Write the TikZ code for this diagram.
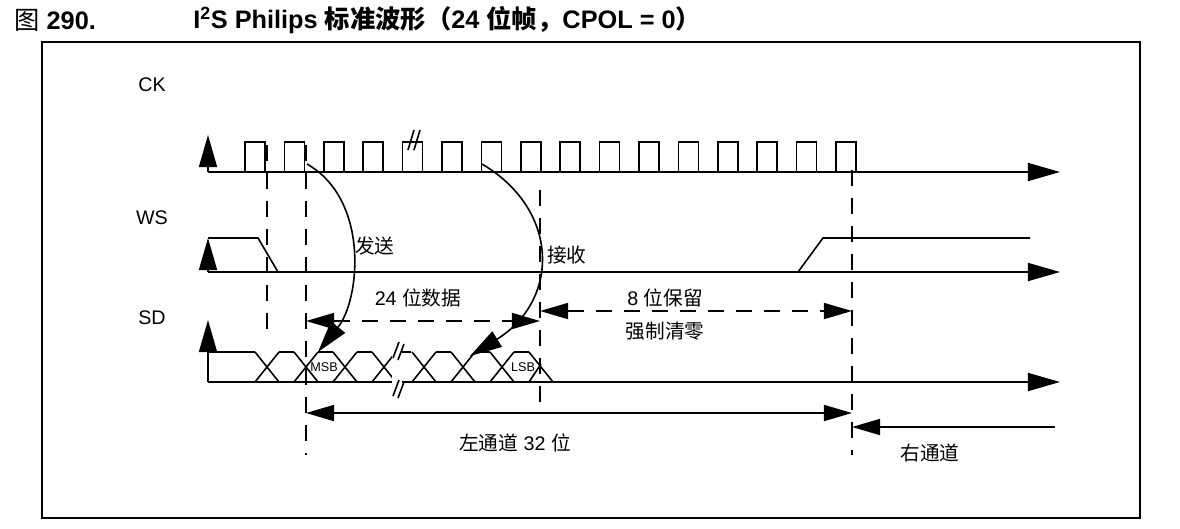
\documentclass[tikz,border=0pt]{standalone}
\usepackage{fontspec}
\setmainfont{Liberation Sans}
\newfontfamily\cjk{Noto Sans CJK SC}
\usetikzlibrary{arrows.meta}
\begin{document}
\begin{tikzpicture}
[x=0.025cm, y=-0.025cm,
 lineDecorate/.style={line width=0.4mm},
 axisDecorate/.style={-{Triangle[length=8mm,width=4.5mm]},line width=0.4mm},
 dimDecorate/.style={{Triangle[length=7mm,width=4mm]}-{Triangle[length=7mm,width=4mm]},line width=0.4mm},
 markDecorate/.style={dashed,dash pattern=on 4mm off 3mm,line width=0.35mm},
 labelDecorate/.style={font=\fontsize{14}{16}\selectfont,inner sep=0pt}]

\useasboundingbox (0,0) rectangle (1180,528);
\draw[line width=0.3mm] (42,42) rectangle (1140,518);

% title
\node[anchor=west,font=\fontsize{18}{20}\selectfont,inner sep=0pt] (title0) at (14,20) {{\cjk 图} \textbf{290.}};
\node[anchor=west,font=\fontsize{18}{20}\selectfont\bfseries,inner sep=0pt] (title1) at (193,20) {I\textsuperscript{2}S Philips {\cjk 标准波形（}24 {\cjk 位帧，}CPOL = 0{\cjk ）}};

% signal names
\foreach \nodename/\y in {CK/85,WS/218,SD/318}
  \node[labelDecorate] (L\nodename) at (152,\y) {\nodename};

% axes
\foreach \nodename/\y/\top in {CK/172/135,WS/272/238,SD/382/320}
 {
  \coordinate (O\nodename) at (208,\y);
  \coordinate (Y\nodename) at (208,\top);
  \coordinate (X\nodename) at (1060,\y);
  \draw[axisDecorate] (O\nodename) -- (Y\nodename);
  \draw[axisDecorate] (O\nodename) -- (X\nodename);
 }

% clock
\foreach \i in {0,...,15}
  \draw[lineDecorate] (245+39.4*\i,172) -- ++(0,-30) -- ++(20,0) -- ++(0,30);
\draw[lineDecorate] (408,150) -- (414,130) (414,150) -- (420,130);

% word select
\draw[lineDecorate] (208,238) -- (258,238) -- (278,272);
\draw[lineDecorate] (798,272) -- (823,238) -- (1030,238);

% serial data
\draw[lineDecorate] (208,352) -- (255,352);
\foreach \c in {267,306,345,384,424,463,502}
 {
  \draw[lineDecorate] (\c-12,352) -- (\c+12,382) (\c-12,382) -- (\c+12,352);
  \draw[lineDecorate] (\c+12,352) -- (\c+27,352) (\c+12,382) -- (\c+27,382);
 }
\draw[lineDecorate] (529,352) -- (553,382) (529,382) -- (541,364);
\draw[fill=white,draw=none] (392,345) rectangle (402,390);
\draw[lineDecorate] (393,358) -- (399,342) (398,360) -- (404,344);
\draw[lineDecorate] (393,396) -- (399,380) (398,398) -- (404,382);
\node[font=\fontsize{9}{10}\selectfont,inner sep=0pt] (MSB) at (324,367) {MSB};
\node[font=\fontsize{9}{10}\selectfont,inner sep=0pt] (LSB) at (523,367) {LSB};

% timing marks
\foreach \nodename/\x/\ya/\yb in {A/267/145/338,B/306/145/455,C/540/190/402,D/852/170/455}
  \draw[markDecorate] (\x,\ya) -- (\x,\yb);

% transfer arrows
\coordinate (sendA) at (307,164);
\coordinate (sendB) at (318,352);
\coordinate (recvA) at (482,164);
\coordinate (recvB) at (470,356);
\draw[lineDecorate,-{Triangle[length=8mm,width=4.5mm]}] (sendA) .. controls (370,200) and (360,300) .. (sendB);
\draw[lineDecorate,-{Triangle[length=8mm,width=4.5mm]}] (recvA) .. controls (560,210) and (560,300) .. (recvB);
\node[labelDecorate,anchor=west] (send) at (355,246) {\cjk 发送};
\node[labelDecorate,anchor=west] (recv) at (547,255) {\cjk 接收};

% dimensions
\coordinate (d24a) at (306,321);
\coordinate (d24b) at (540,321);
\coordinate (d8a) at (540,311);
\coordinate (d8b) at (852,311);
\coordinate (dLa) at (306,413);
\coordinate (dLb) at (852,413);
\coordinate (dRa) at (1055,427);
\coordinate (dRb) at (852,427);
\draw[dimDecorate,dashed,dash pattern=on 4mm off 3mm] (d24a) -- (d24b);
\draw[dimDecorate,dashed,dash pattern=on 4mm off 3mm] (d8a) -- (d8b);
\draw[dimDecorate] (dLa) -- (dLb);
\draw[lineDecorate,-{Triangle[length=7mm,width=4mm]}] (dRa) -- (dRb);
\node[labelDecorate] (t24) at (418,298) {24 {\cjk 位数据}};
\node[labelDecorate] (t8) at (665,298) {8 {\cjk 位保留}};
\node[labelDecorate] (zero) at (665,331) {\cjk 强制清零};
\node[labelDecorate] (left) at (515,443) {{\cjk 左通道} 32 {\cjk 位}};
\node[labelDecorate] (right) at (930,453) {\cjk 右通道};
\end{tikzpicture}
\end{document}
